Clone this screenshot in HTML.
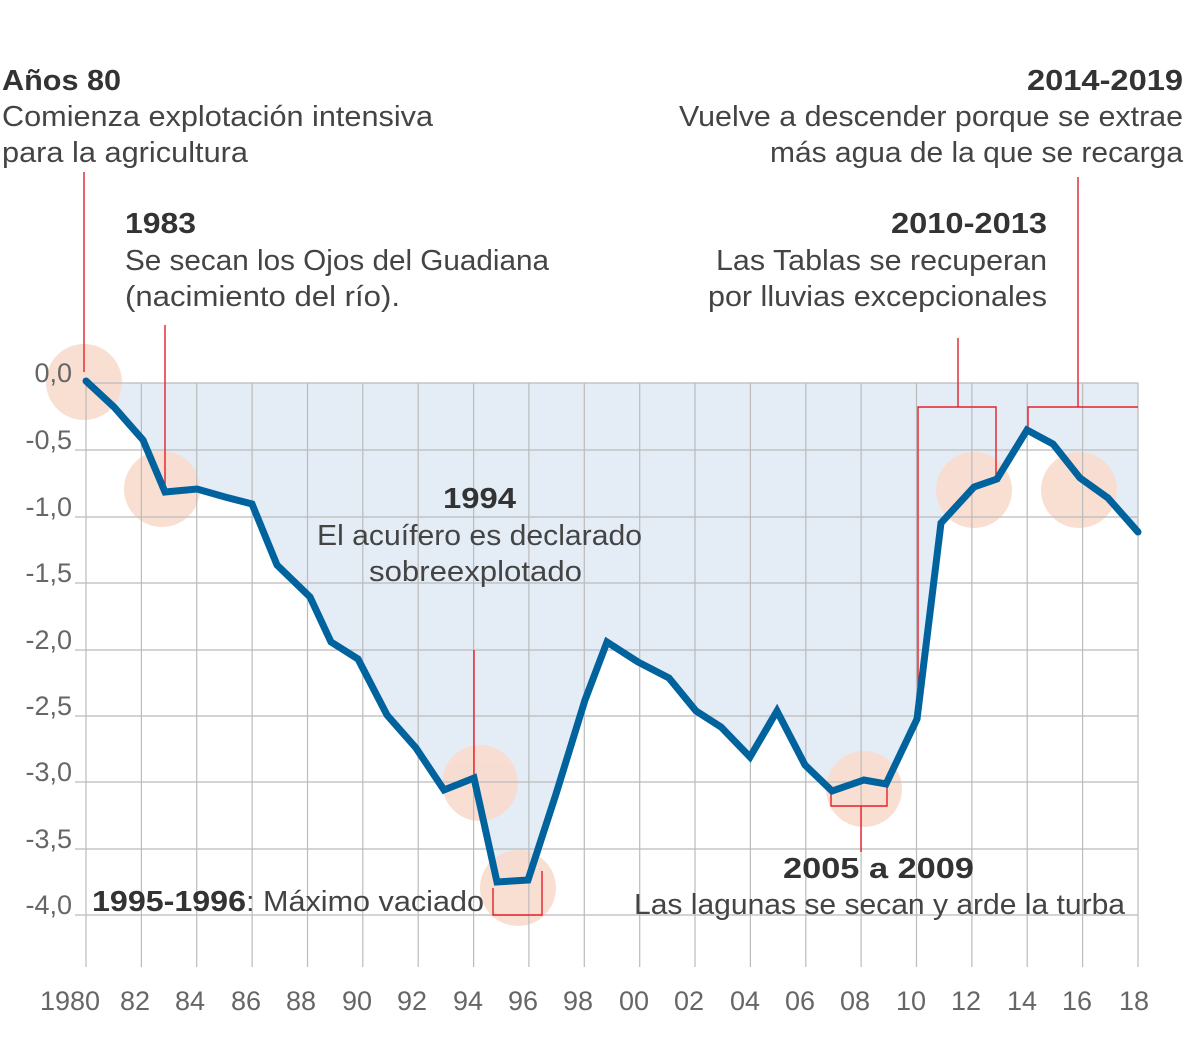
<!DOCTYPE html>
<html><head><meta charset="utf-8"><style>
html,body{margin:0;padding:0;background:#fff}
svg{display:block}
text{font-family:"Liberation Sans Narrow","Liberation Sans",sans-serif}
.r{font-size:29px;fill:#444}
.b{font-size:29px;fill:#333;font-weight:bold}
.ax{font-size:27px;fill:#666}
</style></head><body>
<svg width="1200" height="1039" viewBox="0 0 1200 1039" xmlns="http://www.w3.org/2000/svg">
<!-- fill area -->
<polygon fill="#e4ecf6" points="86,383 86,381 114,407 143,440 165,492 197,489 225,497 252,504 277,565 310,597 331,642 358,659 387,715 416,748 444,790 474,778 497,882 528,880 556,794 585,700 607,642 638,662 669,678 696,711 721,727 750,757 777,711 805,765 832,791 864,780 886,784 917,719 941,523 974,487 997,479 1027,430 1053,444 1080,478 1108,498 1138,532 1138,383"/>
<!-- circles -->
<g fill="#f9ddd0" opacity="0.95">
<circle cx="84" cy="382" r="38"/>
<circle cx="162" cy="489" r="38"/>
<circle cx="480" cy="783" r="38"/>
<circle cx="518" cy="888" r="38"/>
<circle cx="864" cy="789" r="38"/>
<circle cx="974" cy="490" r="38"/>
<circle cx="1079" cy="490" r="38"/>
</g>
<!-- gridlines -->
<g stroke="#bbb" stroke-width="1.3">
<line x1="86" y1="383" x2="1138" y2="383"/>
<line x1="75" y1="450" x2="1138" y2="450"/>
<line x1="75" y1="517" x2="1138" y2="517"/>
<line x1="75" y1="583" x2="1138" y2="583"/>
<line x1="75" y1="650" x2="1138" y2="650"/>
<line x1="75" y1="716" x2="1138" y2="716"/>
<line x1="75" y1="782" x2="1138" y2="782"/>
<line x1="75" y1="849" x2="1138" y2="849"/>
<line x1="75" y1="915" x2="1138" y2="915"/>
</g>
<g stroke="#bbb" stroke-width="1.2">
<line x1="86" y1="383" x2="86" y2="967"/><line x1="141.4" y1="383" x2="141.4" y2="967"/><line x1="196.7" y1="383" x2="196.7" y2="967"/><line x1="252.1" y1="383" x2="252.1" y2="967"/><line x1="307.5" y1="383" x2="307.5" y2="967"/><line x1="362.8" y1="383" x2="362.8" y2="967"/><line x1="418.2" y1="383" x2="418.2" y2="967"/><line x1="473.6" y1="383" x2="473.6" y2="967"/><line x1="528.9" y1="383" x2="528.9" y2="967"/><line x1="584.3" y1="383" x2="584.3" y2="967"/><line x1="639.7" y1="383" x2="639.7" y2="967"/><line x1="695" y1="383" x2="695" y2="967"/><line x1="750.4" y1="383" x2="750.4" y2="967"/><line x1="805.8" y1="383" x2="805.8" y2="967"/><line x1="861.1" y1="383" x2="861.1" y2="967"/><line x1="916.5" y1="383" x2="916.5" y2="967"/><line x1="971.9" y1="383" x2="971.9" y2="967"/><line x1="1027.2" y1="383" x2="1027.2" y2="967"/><line x1="1082.6" y1="383" x2="1082.6" y2="967"/><line x1="1138" y1="383" x2="1138" y2="967"/>
</g>
<!-- red annotation lines -->
<g stroke="#e3202b" stroke-width="1.4" fill="none">
<line x1="84" y1="172" x2="84" y2="372"/>
<line x1="165" y1="325" x2="165" y2="490"/>
<line x1="474" y1="650" x2="474" y2="776"/>
<polyline points="493,888 493,915 542,915 542,871"/>
<polyline points="831,790 831,806 887,806 887,786"/>
<line x1="861" y1="806" x2="861" y2="852"/>
<polyline points="918,719 918,407 996,407 996,478"/>
<line x1="958" y1="338" x2="958" y2="407"/>
<polyline points="1028,428 1028,407 1138,407"/>
<line x1="1078" y1="177" x2="1078" y2="407"/>
</g>
<!-- series -->
<polyline fill="none" stroke="#00639e" stroke-width="7" stroke-linejoin="miter" stroke-linecap="round" points="86,381 114,407 143,440 165,492 197,489 225,497 252,504 277,565 310,597 331,642 358,659 387,715 416,748 444,790 474,778 497,882 528,880 556,794 585,700 607,642 638,662 669,678 696,711 721,727 750,757 777,711 805,765 832,791 864,780 886,784 917,719 941,523 974,487 997,479 1027,430 1053,444 1080,478 1108,498 1138,532"/>
<!-- y labels -->
<g class="ax" text-anchor="end">
<text x="72" y="382">0,0</text>
<text x="72" y="449">-0,5</text>
<text x="72" y="516">-1,0</text>
<text x="72" y="582">-1,5</text>
<text x="72" y="649">-2,0</text>
<text x="72" y="715">-2,5</text>
<text x="72" y="781">-3,0</text>
<text x="72" y="848">-3,5</text>
<text x="72" y="914">-4,0</text>
</g>
<!-- x labels -->
<g class="ax" text-anchor="middle">
<text x="70" y="1010">1980</text><text x="135" y="1010">82</text><text x="190" y="1010">84</text><text x="246" y="1010">86</text><text x="301" y="1010">88</text><text x="357" y="1010">90</text><text x="412" y="1010">92</text><text x="468" y="1010">94</text><text x="523" y="1010">96</text><text x="578" y="1010">98</text><text x="634" y="1010">00</text><text x="689" y="1010">02</text><text x="745" y="1010">04</text><text x="800" y="1010">06</text><text x="855" y="1010">08</text><text x="911" y="1010">10</text><text x="966" y="1010">12</text><text x="1022" y="1010">14</text><text x="1077" y="1010">16</text><text x="1134" y="1010">18</text>
</g>
<!-- annotations -->
<text class="b" x="2" y="90" textLength="119" lengthAdjust="spacingAndGlyphs">Años 80</text>
<text class="r" x="2" y="126" textLength="431" lengthAdjust="spacingAndGlyphs">Comienza explotación intensiva</text>
<text class="r" x="2" y="162" textLength="246" lengthAdjust="spacingAndGlyphs">para la agricultura</text>
<text class="b" x="125" y="233" textLength="71" lengthAdjust="spacingAndGlyphs">1983</text>
<text class="r" x="125" y="270" textLength="424" lengthAdjust="spacingAndGlyphs">Se secan los Ojos del Guadiana</text>
<text class="r" x="125" y="306" textLength="275" lengthAdjust="spacingAndGlyphs">(nacimiento del río).</text>
<text class="b" x="1027" y="90" textLength="156" lengthAdjust="spacingAndGlyphs">2014-2019</text>
<text class="r" x="679" y="126" textLength="504" lengthAdjust="spacingAndGlyphs">Vuelve a descender porque se extrae</text>
<text class="r" x="770" y="162" textLength="413" lengthAdjust="spacingAndGlyphs">más agua de la que se recarga</text>
<text class="b" x="891" y="233" textLength="156" lengthAdjust="spacingAndGlyphs">2010-2013</text>
<text class="r" x="716" y="270" textLength="331" lengthAdjust="spacingAndGlyphs">Las Tablas se recuperan</text>
<text class="r" x="708" y="306" textLength="339" lengthAdjust="spacingAndGlyphs">por lluvias excepcionales</text>
<text class="b" x="443" y="508" textLength="73" lengthAdjust="spacingAndGlyphs">1994</text>
<text class="r" x="317" y="545" textLength="325" lengthAdjust="spacingAndGlyphs">El acuífero es declarado</text>
<text class="r" x="369" y="581" textLength="213" lengthAdjust="spacingAndGlyphs">sobreexplotado</text>
<text class="b" x="92" y="911" textLength="154" lengthAdjust="spacingAndGlyphs">1995-1996</text>
<text class="r" x="246" y="911" textLength="238" lengthAdjust="spacingAndGlyphs">: Máximo vaciado</text>
<text class="b" x="783" y="878" textLength="191" lengthAdjust="spacingAndGlyphs">2005 a 2009</text>
<text class="r" x="634" y="914" textLength="491" lengthAdjust="spacingAndGlyphs">Las lagunas se secan y arde la turba</text>
</svg>
</body></html>
